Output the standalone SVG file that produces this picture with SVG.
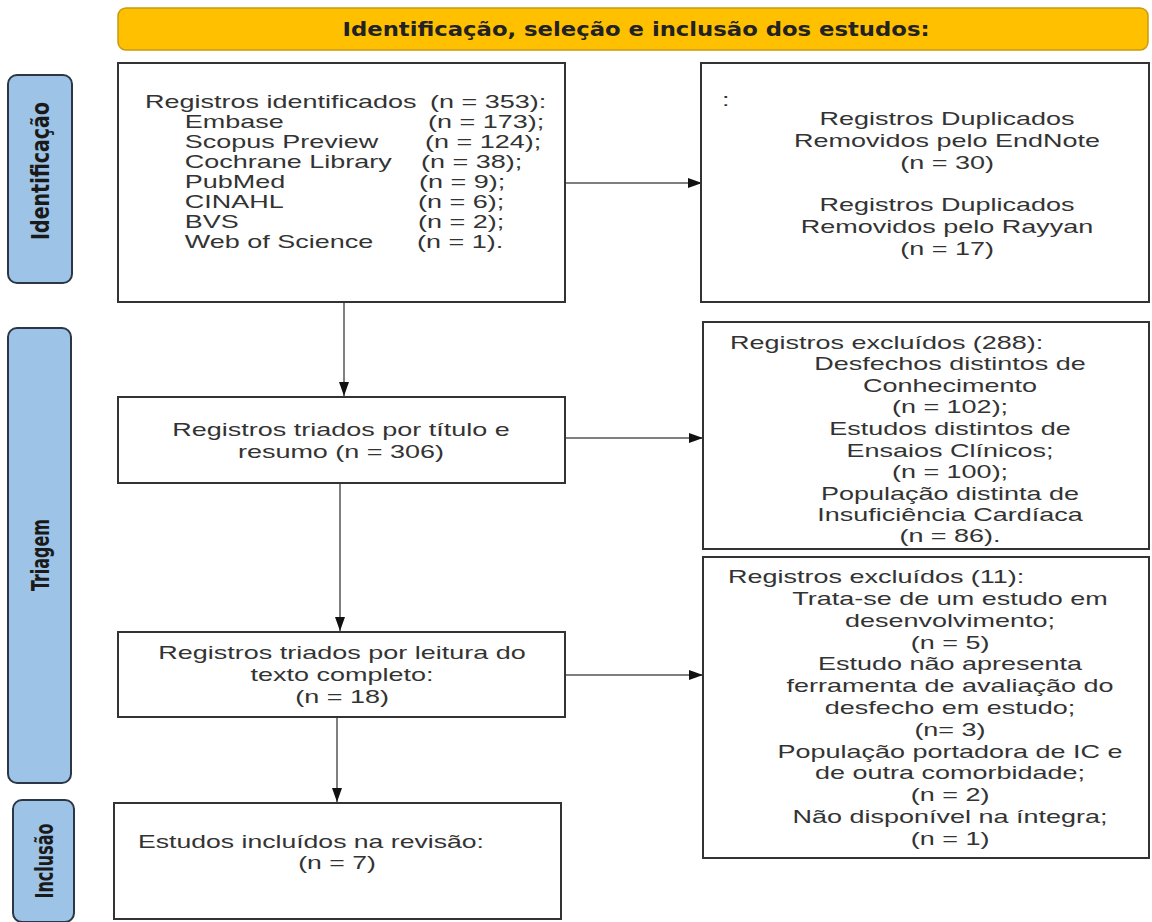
<svg xmlns="http://www.w3.org/2000/svg" width="1152" height="922" viewBox="0 0 1152 922">
<defs>
<marker id="ah" markerWidth="14" markerHeight="10" refX="14" refY="5" orient="auto" markerUnits="userSpaceOnUse">
<path d="M0,0 L14,5 L0,10 Z" fill="#111"/>
</marker>
<style>
.box{fill:#fff;stroke:#333;stroke-width:2}
.tab{fill:#9dc3e6;stroke:#2b3646;stroke-width:2}
.hdr{fill:#ffc000;stroke:#c79a10;stroke-width:1.5}
.t{font-family:"Liberation Sans",Arial,sans-serif;font-size:19px;fill:#333}
.c{text-anchor:middle}
.b{font-family:"Liberation Sans Narrow","DejaVu Sans Condensed","Liberation Sans",Arial,sans-serif;font-weight:bold;font-size:19px;fill:#222}
.lbl{font-family:"Liberation Sans Narrow","DejaVu Sans Condensed","Liberation Sans",Arial,sans-serif;font-weight:bold;font-size:19px;fill:#1a1a1a;text-anchor:middle}
.con{stroke:#555;stroke-width:1.5;fill:none}
</style>
</defs>
<rect width="1152" height="922" fill="#fff"/>

<g id="header">
<rect class="hdr" x="118" y="8" width="1030" height="42" rx="8"/>
<text class="b" x="636" y="36" text-anchor="middle" textLength="587" lengthAdjust="spacingAndGlyphs">Identificação, seleção e inclusão dos estudos:</text>
</g>

<g id="tab-identificacao">
<rect class="tab" x="8" y="75" width="64" height="208" rx="9"/>
<text class="lbl" transform="translate(40,171) rotate(-90) scale(1,1.3)" y="7" textLength="138" lengthAdjust="spacingAndGlyphs">Identificação</text>
</g>
<g id="tab-triagem">
<rect class="tab" x="8" y="328" width="63" height="455" rx="9"/>
<text class="lbl" transform="translate(40,555) rotate(-90) scale(1,1.3)" y="7" textLength="72" lengthAdjust="spacingAndGlyphs">Triagem</text>
</g>
<g id="tab-inclusao">
<rect class="tab" x="13" y="800" width="61" height="122" rx="9"/>
<text class="lbl" transform="translate(44,861) rotate(-90) scale(1,1.3)" y="7" textLength="75" lengthAdjust="spacingAndGlyphs">Inclusão</text>
</g>

<g id="connectors">
<line class="con" x1="565" y1="183" x2="702" y2="183" marker-end="url(#ah)"/>
<line class="con" x1="344" y1="302" x2="344" y2="396" marker-end="url(#ah)"/>
<line class="con" x1="565" y1="438" x2="703" y2="438" marker-end="url(#ah)"/>
<line class="con" x1="340" y1="483" x2="340" y2="631" marker-end="url(#ah)"/>
<line class="con" x1="565" y1="675" x2="703" y2="675" marker-end="url(#ah)"/>
<line class="con" x1="337" y1="717" x2="337" y2="802" marker-end="url(#ah)"/>
</g>

<g id="n-identificados">
<rect class="box" x="118" y="63" width="447" height="239"/>
<g transform="translate(145,0) scale(1.42,1)">
<text class="t" x="0" y="108">Registros identificados</text>
<text class="t" x="28" y="128">Embase</text>
<text class="t" x="28" y="148">Scopus Preview</text>
<text class="t" x="28" y="168">Cochrane Library</text>
<text class="t" x="28" y="188">PubMed</text>
<text class="t" x="28" y="208">CINAHL</text>
<text class="t" x="28" y="228">BVS</text>
<text class="t" x="28" y="248">Web of Science</text>
</g>
<text class="t" transform="translate(430,108) scale(1.42,1)">(n = 353):</text>
<text class="t" transform="translate(428,128) scale(1.42,1)">(n = 173);</text>
<text class="t" transform="translate(425,148) scale(1.42,1)">(n = 124);</text>
<text class="t" transform="translate(421,168) scale(1.42,1)">(n = 38);</text>
<text class="t" transform="translate(419,188) scale(1.42,1)">(n = 9);</text>
<text class="t" transform="translate(418,208) scale(1.42,1)">(n = 6);</text>
<text class="t" transform="translate(418,228) scale(1.42,1)">(n = 2);</text>
<text class="t" transform="translate(417,248) scale(1.42,1)">(n = 1).</text>
</g>

<g id="n-duplicados">
<rect class="box" x="701" y="63" width="448" height="239"/>
<text class="t" transform="translate(722,106) scale(1.42,1)">:</text>
<g transform="translate(947,0) scale(1.42,1)">
<text class="t c" x="0" y="125">Registros Duplicados</text>
<text class="t c" x="0" y="147">Removidos pelo EndNote</text>
<text class="t c" x="0" y="169">(n = 30)</text>
<text class="t c" x="0" y="211">Registros Duplicados</text>
<text class="t c" x="0" y="233">Removidos pelo Rayyan</text>
<text class="t c" x="0" y="255">(n = 17)</text>
</g>
</g>

<g id="n-triados-titulo">
<rect class="box" x="118" y="397" width="447" height="86"/>
<g transform="translate(341,0) scale(1.42,1)">
<text class="t c" x="0" y="436">Registros triados por título e</text>
<text class="t c" x="0" y="458">resumo (n = 306)</text>
</g>
</g>

<g id="n-excluidos-288">
<rect class="box" x="703" y="322" width="446" height="227"/>
<text class="t" transform="translate(730,349) scale(1.42,1)">Registros excluídos (288):</text>
<g transform="translate(950,0) scale(1.42,1)">
<text class="t c" x="0" y="370">Desfechos distintos de</text>
<text class="t c" x="0" y="392">Conhecimento</text>
<text class="t c" x="0" y="413">(n = 102);</text>
<text class="t c" x="0" y="435">Estudos distintos de</text>
<text class="t c" x="0" y="457">Ensaios Clínicos;</text>
<text class="t c" x="0" y="478">(n = 100);</text>
<text class="t c" x="0" y="500">População distinta de</text>
<text class="t c" x="0" y="521">Insuficiência Cardíaca</text>
<text class="t c" x="0" y="542">(n = 86).</text>
</g>
</g>

<g id="n-triados-leitura">
<rect class="box" x="118" y="632" width="447" height="85"/>
<g transform="translate(342,0) scale(1.42,1)">
<text class="t c" x="0" y="659">Registros triados por leitura do</text>
<text class="t c" x="0" y="681">texto completo:</text>
<text class="t c" x="0" y="703">(n = 18)</text>
</g>
</g>

<g id="n-excluidos-11">
<rect class="box" x="703" y="557" width="446" height="301"/>
<text class="t" transform="translate(728,583) scale(1.42,1)">Registros excluídos (11):</text>
<g transform="translate(950,0) scale(1.42,1)">
<text class="t c" x="0" y="605">Trata-se de um estudo em</text>
<text class="t c" x="0" y="627">desenvolvimento;</text>
<text class="t c" x="0" y="649">(n = 5)</text>
<text class="t c" x="0" y="670">Estudo não apresenta</text>
<text class="t c" x="0" y="692">ferramenta de avaliação do</text>
<text class="t c" x="0" y="714">desfecho em estudo;</text>
<text class="t c" x="0" y="736">(n= 3)</text>
<text class="t c" x="0" y="758">População portadora de IC e</text>
<text class="t c" x="0" y="779">de outra comorbidade;</text>
<text class="t c" x="0" y="801">(n = 2)</text>
<text class="t c" x="0" y="823">Não disponível na íntegra;</text>
<text class="t c" x="0" y="845">(n = 1)</text>
</g>
</g>

<g id="n-incluidos">
<rect class="box" x="114" y="803" width="447" height="116"/>
<text class="t" transform="translate(138,848) scale(1.4,1)">Estudos incluídos na revisão:</text>
<text class="t c" transform="translate(337,869) scale(1.4,1)">(n = 7)</text>
</g>
</svg>
